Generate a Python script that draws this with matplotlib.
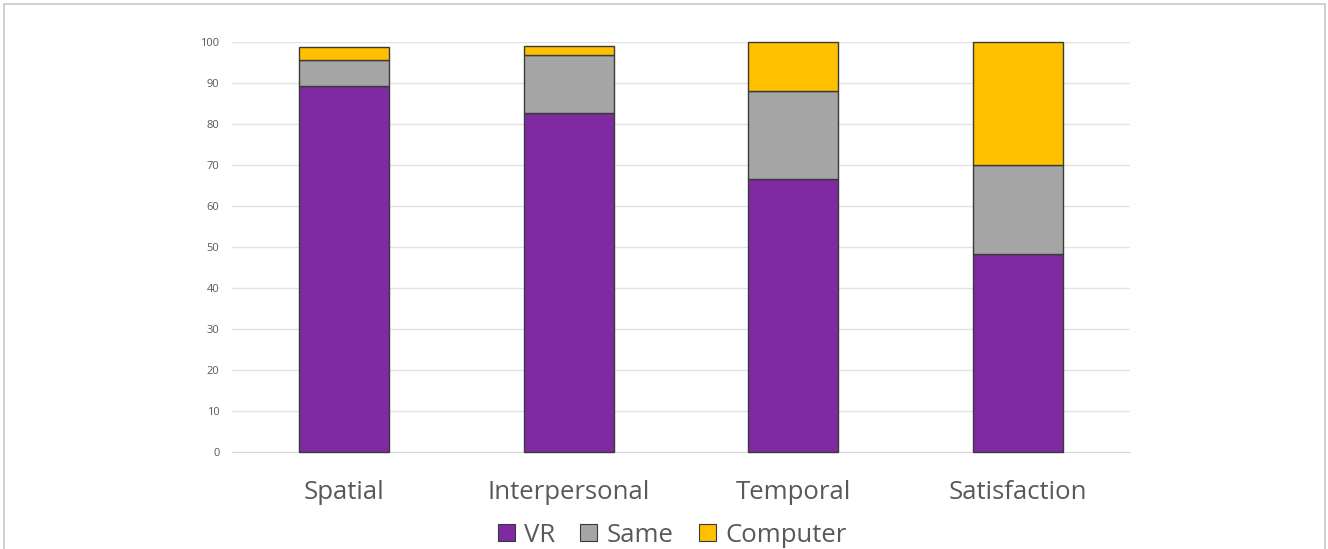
import numpy as np
import matplotlib.pyplot as plt
from matplotlib.patches import Patch

plt.rcParams['font.family'] = ['Open Sans', 'DejaVu Sans']

# Частки відповідей по категоріях (%)
categories = ['Spatial', 'Interpersonal', 'Temporal', 'Satisfaction']
vr = [89.2, 82.7, 66.7, 48.3]
same = [6.5, 14.1, 21.4, 21.7]
computer = [3.2, 2.3, 11.9, 30.0]

series = [('VR', vr, '#7F2AA0'), ('Same', same, '#A5A5A5'), ('Computer', computer, '#FFC000')]

fig = plt.figure(figsize=(13.28, 5.49), dpi=100)
ax = fig.add_axes([0.1747, 0.1767, 0.6762, 0.7468])

x = np.arange(len(categories))
bottom = np.zeros(len(categories))
for name, vals, color in series:
    bars = ax.bar(x, vals, width=0.4, bottom=bottom, color=color,
                  edgecolor='#3a3a3a', linewidth=1.0, label=name, zorder=3)
    for b in bars:
        b.set_clip_on(False)
    bottom += np.array(vals)

ax.set_xlim(-0.5, 3.5)
ax.set_ylim(0, 100)
ax.set_yticks(np.arange(0, 101, 10))
ax.yaxis.grid(True, color='#E3E3E3', linewidth=1.0, zorder=0)
for s in ['top', 'right', 'left']:
    ax.spines[s].set_visible(False)
ax.spines['bottom'].set_color('#D9D9D9')
ax.tick_params(axis='y', length=0, labelsize=8, labelcolor='#595959', pad=9)
ax.tick_params(axis='x', length=0, labelsize=18.5, labelcolor='#595959', pad=20)
ax.set_xticks(x)
ax.set_xticklabels(categories)

handles = [Patch(facecolor=c, edgecolor='#3a3a3a', linewidth=0.8) for _, _, c in series]
fig.legend(handles, [n for n, _, _ in series], loc='center', bbox_to_anchor=(0.506, 0.025),
           ncol=3, frameon=False, fontsize=18.5, labelcolor='#595959',
           handlelength=0.66, handleheight=0.66, handletextpad=0.35, columnspacing=1.0)

# Рамка навколо рисунка
fig.patches.append(plt.Rectangle((0.003, -0.01), 0.995, 1.003, transform=fig.transFigure,
                                 fill=False, edgecolor='#C8C8C8', linewidth=1.2))

fig.savefig('out.png', dpi=100)
